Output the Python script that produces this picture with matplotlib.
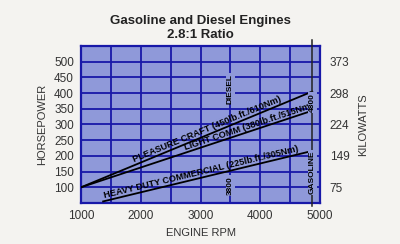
import numpy as np
import matplotlib.pyplot as plt

# engine curves: start and end points (rpm, hp)
curve_names = ['PLEASURE CRAFT (450lb.ft./610Nm)',
               'LIGHT COMM (380lb.ft./515Nm)',
               'HEAVY DUTY COMMERCIAL (225lb.ft./305Nm)']
rpm_start = [1000, 1000, 1370]
hp_start = [100, 100, 55]
rpm_end = [4870, 4870, 4830]
hp_end = [405, 344, 214]
label_rpm = [3140, 3840, 3030]

rpm_ticks = [1000, 2000, 3000, 4000, 5000]
hp_ticks = [100, 150, 200, 250, 300, 350, 400, 450, 500]
kw_hp = [100, 200, 300, 400, 500]
kw_labels = [str(int(round(h * 0.7457))) for h in kw_hp]

diesel_rpm = 3500
gas_rpm = 4870

paper = '#f4f3f0'
fill = '#8f99d9'
grid = '#1818a8'
txt = '#333333'
plt.rcParams['font.family'] = ['Liberation Sans', 'DejaVu Sans']

fig = plt.figure(figsize=(4, 2.44), dpi=100, facecolor=paper)
ax = fig.add_axes([81/400, 1 - 203/244, 239/400, 157/244])
ax.set_facecolor(fill)
ax.set_xlim(1000, 5000)
ax.set_ylim(50, 550)
for x in np.arange(1000, 5001, 500):
    ax.axvline(x, color=grid, lw=1.3, zorder=1)
for y in np.arange(100, 501, 50):
    ax.axhline(y, color=grid, lw=1.3, zorder=1)
for s in ax.spines.values():
    s.set_color(grid)
    s.set_linewidth(1.6)
ax.set_xticks(rpm_ticks)
ax.set_yticks(hp_ticks)
ax.tick_params(length=0, labelsize=8.5, colors=txt, pad=5)
ax.set_xlabel('ENGINE RPM', fontsize=8, color=txt, labelpad=4)
ax.set_ylabel('HORSEPOWER', fontsize=8, color=txt, labelpad=5)

ax2 = ax.twinx()
ax2.set_ylim(50, 550)
ax2.set_yticks(kw_hp)
ax2.set_yticklabels(kw_labels)
ax2.tick_params(length=0, labelsize=8.5, colors=txt, pad=7)
ax2.set_ylabel('KILOWATTS', fontsize=8, color=txt, labelpad=6)
for s in ax2.spines.values():
    s.set_visible(False)

fig.text(0.5, 1 - 28/244, 'Gasoline and Diesel Engines\n2.8:1 Ratio', ha='center',
         va='center', fontsize=9.5, fontweight='bold', color='#222222', linespacing=1.2)

# curves with labels running along them
for i in range(3):
    ax.plot([rpm_start[i], rpm_end[i]], [hp_start[i], hp_end[i]], color='black', lw=1.3, zorder=3)
    p0 = ax.transData.transform((rpm_start[i], hp_start[i]))
    p1 = ax.transData.transform((rpm_end[i], hp_end[i]))
    ang = np.degrees(np.arctan2(p1[1] - p0[1], p1[0] - p0[0]))
    frac = (label_rpm[i] - rpm_start[i]) / (rpm_end[i] - rpm_start[i])
    y = hp_start[i] + frac * (hp_end[i] - hp_start[i])
    off = 1.8
    ax.annotate(curve_names[i], (label_rpm[i], y),
                xytext=(-off * np.sin(np.radians(ang)), off * np.cos(np.radians(ang))),
                textcoords='offset points', rotation=ang, rotation_mode='anchor',
                ha='center', va='baseline', fontsize=6.6, fontweight='bold',
                color='black', zorder=4)

# rpm marker lines
ax.plot([gas_rpm, gas_rpm], [570, 40], color='#222222', lw=1.1, clip_on=False, zorder=3)
box = dict(boxstyle='square,pad=0.1', fc=fill, ec='none')
mark_kw = dict(rotation=90, ha='center', va='center', fontsize=6, fontweight='bold',
               color='black', bbox=box, zorder=4)
ax.text(gas_rpm, 370, '4800', **mark_kw)
ax.text(gas_rpm, 148, 'GASOLINE', **mark_kw)
ax.text(diesel_rpm, 414, 'DIESEL', **mark_kw)
ax.text(diesel_rpm, 106, '3800', **mark_kw)

fig.savefig('out.png', dpi=100, facecolor=paper)
